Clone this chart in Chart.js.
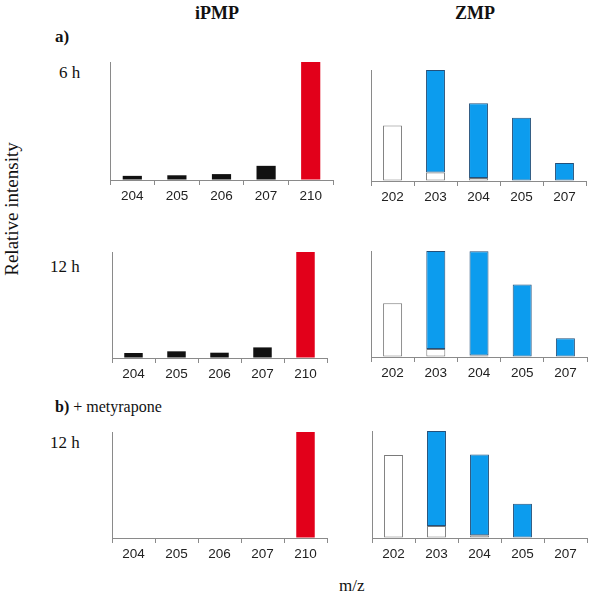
<!DOCTYPE html>
<html lang="en">
<head>
    <meta charset="UTF-8">
    <title>iPMP / ZMP relative intensity</title>
    <style>
        body {
            margin: 0;
            background: #fff;
            font-family: 'Liberation Serif', 'Times New Roman', serif;
            color: #111;
        }
        #page {
            position: relative;
            width: 597px;
            height: 600px;
        }
        .panel {
            position: absolute;
        }
        .txt {
            position: absolute;
            font-size: 17px;
            line-height: 20px;
            white-space: nowrap;
        }
        .bold { font-weight: bold; }
        .head {
            font-size: 18px;
            font-weight: bold;
            transform: translateX(-50%);
        }
        #ylab {
            left: 12px;
            top: 209px;
            font-size: 19px;
            transform: translate(-50%, -50%) rotate(-90deg);
        }
    </style>
    <script src="https://cdn.jsdelivr.net/npm/chart.js"></script>
</head>
<body>
<div id="page">
    <div class="txt head" style="left:217px; top:3px;">iPMP</div>
    <div class="txt head" style="left:475px; top:3px;">ZMP</div>
    <div class="txt bold" style="left:55px; top:27px;">a)</div>
    <div class="txt" style="left:59px; top:63px;">6 h</div>
    <div class="txt" style="left:50px; top:257px;">12 h</div>
    <div class="txt" style="left:55px; top:397px; font-size:16px;"><b>b)</b> + metyrapone</div>
    <div class="txt" style="left:50px; top:433px;">12 h</div>
    <div class="txt" id="ylab">Relative intensity</div>
    <div class="txt" style="left:339px; top:576px;">m/z</div>
</div>

<script>
    // m/z categories
    const ipmpLabels = ['204', '205', '206', '207', '210'];
    const zmpLabels = ['202', '203', '204', '205', '207'];

    // iPMP relative intensity (% of max)
    const ipmp6h = [3.5, 4, 5, 12, 100];
    const ipmp12h = [4.7, 6.3, 5, 10, 100];
    const ipmp12hMety = [0, 0, 0, 0, 100];
    const ipmpColors = ['#111', '#111', '#111', '#111', '#e2001a'];

    // ZMP: unlabelled (white) part and labelled (blue) part, stacked
    const zmp6hWhite = [50, 7.6, 2.7, 0, 0];
    const zmp6hBlue = [0, 92.4, 67.3, 57, 16.3];
    const zmp12hWhite = [50.6, 7.5, 1.5, 0, 0];
    const zmp12hBlue = [0, 92.5, 98.2, 68.4, 17.8];
    const zmpMetyWhite = [77.5, 11.2, 2.5, 0, 0];
    const zmpMetyBlue = [0, 88.8, 75.5, 32, 0];

    const AXIS = '#8a8a8a';
    const PAD = 5;
    const XAXIS_H = 30;

    // box = plot area in page pixels
    function makePanel(box, labels, datasets) {
        const div = document.createElement('div');
        div.className = 'panel';
        const w = box.right - box.left + PAD * 2;
        const h = box.bottom - box.top + PAD + XAXIS_H;
        div.style.left = (box.left - PAD) + 'px';
        div.style.top = (box.top - PAD) + 'px';
        div.style.width = w + 'px';
        div.style.height = h + 'px';
        const canvas = document.createElement('canvas');
        div.appendChild(canvas);
        document.getElementById('page').appendChild(div);

        new Chart(canvas, {
            type: 'bar',
            data: { labels: labels, datasets: datasets },
            options: {
                responsive: true,
                maintainAspectRatio: false,
                animation: false,
                layout: { padding: { left: PAD, right: PAD, top: PAD, bottom: 0 } },
                plugins: { legend: { display: false }, tooltip: { enabled: false } },
                scales: {
                    x: {
                        stacked: true,
                        grid: { display: true, drawOnChartArea: false, tickLength: 5, color: AXIS },
                        border: { color: AXIS, width: 1 },
                        ticks: {
                            padding: 3,
                            color: '#222',
                            font: { family: "'Liberation Sans', Arial, sans-serif", size: 13.5 }
                        },
                        afterFit: s => { s.height = XAXIS_H; }
                    },
                    y: {
                        stacked: true,
                        min: 0,
                        max: 100,
                        grid: { display: true, drawOnChartArea: false, drawTicks: false },
                        border: { color: AXIS, width: 1 },
                        ticks: { display: false },
                        afterFit: s => { s.width = 0; }
                    }
                }
            }
        });
    }

    function ipmpSet(values) {
        return [{
            data: values,
            backgroundColor: ipmpColors,
            borderWidth: 0,
            categoryPercentage: 1,
            barPercentage: 0.43
        }];
    }

    function zmpSets(white, blue) {
        return [{
            data: white,
            backgroundColor: '#ffffff',
            borderColor: '#7a7a7a',
            borderWidth: 1,
            borderSkipped: false,
            categoryPercentage: 1,
            barPercentage: 0.44
        }, {
            data: blue,
            backgroundColor: '#0c9cee',
            borderColor: '#23507a',
            borderWidth: 1,
            borderSkipped: false,
            categoryPercentage: 1,
            barPercentage: 0.44
        }];
    }

    makePanel({ left: 110, right: 333, top: 62, bottom: 180 }, ipmpLabels, ipmpSet(ipmp6h));
    makePanel({ left: 371, right: 586, top: 70, bottom: 181 }, zmpLabels, zmpSets(zmp6hWhite, zmp6hBlue));
    makePanel({ left: 112, right: 327, top: 252, bottom: 358 }, ipmpLabels, ipmpSet(ipmp12h));
    makePanel({ left: 371, right: 587, top: 251, bottom: 357 }, zmpLabels, zmpSets(zmp12hWhite, zmp12hBlue));
    makePanel({ left: 112, right: 327, top: 432, bottom: 538 }, ipmpLabels, ipmpSet(ipmp12hMety));
    makePanel({ left: 372, right: 587, top: 431, bottom: 538 }, zmpLabels, zmpSets(zmpMetyWhite, zmpMetyBlue));
</script>
</body>
</html>
